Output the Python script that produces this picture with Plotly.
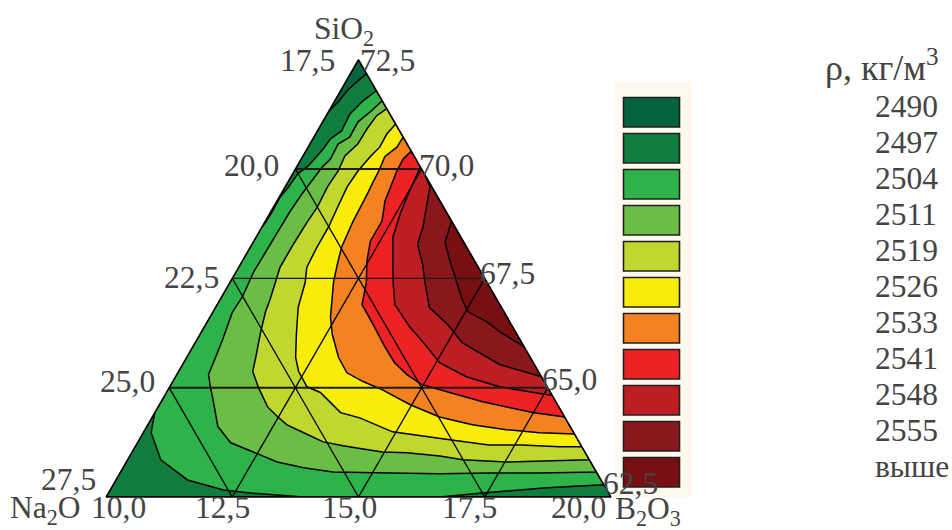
import plotly.graph_objects as go

# Composition ranges, mass %
SIO2_MIN, SIO2_MAX = 62.5, 72.5
NA2O_MIN, NA2O_MAX = 17.5, 27.5
B2O3_MIN, B2O3_MAX = 10.0, 20.0
TOTAL = 100.0

sio2_grid = [65.0, 67.5, 70.0]
na2o_grid = [20.0, 22.5, 25.0]
b2o3_grid = [12.5, 15.0, 17.5]

legend_title = "ρ, кг/м<sup>3</sup>"
legend_labels = ["2490", "2497", "2504", "2511", "2519", "2526", "2533", "2541", "2548", "2555", "выше"]
band_colors = ["#04633f", "#0f7d3e", "#2db34a", "#6abd45", "#c0d72f", "#f7ec0a",
               "#f58220", "#ed2224", "#bc1e24", "#8a171b", "#780f13"]

na2o_ticks = ["17,5", "20,0", "22,5", "25,0", "27,5"]
sio2_ticks = ["72,5", "70,0", "67,5", "65,0", "62,5"]
b2o3_ticks = ["10,0", "12,5", "15,0", "17,5", "20,0"]

# Iso-density boundaries: SiO2 and B2O3 content along each band's edge
sio2_2497 = [72.18, 72.0, 71.79, 71.54, 71.33, 62.5, 62.5]
b2o3_2497 = [10.32, 10.22, 10.13, 10.08, 10.0, 10.0, 20.0]

sio2_2504 = [71.79, 71.56, 71.26, 70.87, 70.69, 70.46, 70.07, 69.89, 69.59, 69.36, 69.01, 68.78, 68.67,
             64.43, 63.97, 63.35, 62.89, 62.66, 62.59, 62.5, 62.5, 62.59, 62.71, 62.78]
b2o3_2504 = [10.71, 10.56, 10.45, 10.48, 10.35, 10.32, 10.22, 10.10, 10.07, 10.02, 10.03, 10.02, 10.0,
             10.0, 10.16, 10.66, 11.42, 12.25, 12.81, 13.91, 16.61, 17.41, 18.62, 19.72]

sio2_2511 = [71.56, 71.31, 71.08, 70.73, 70.57, 70.23, 70.05, 69.47, 69.04, 68.58, 68.10, 67.64, 67.09, 66.72,
             66.10, 65.57, 65.30, 65.00, 64.66, 64.11, 63.74, 63.53, 63.30, 63.17, 63.07, 63.05, 63.03, 63.05,
             63.05, 63.07]
b2o3_2511 = [10.94, 10.83, 10.70, 10.71, 10.56, 10.58, 10.51, 10.42, 10.38, 10.37, 10.36, 10.35, 10.41, 10.39,
             10.51, 10.59, 10.63, 10.82, 11.05, 11.41, 11.85, 12.40, 12.99, 13.58, 14.21, 15.35, 16.35, 17.32,
             18.31, 19.43]

sio2_2519 = [71.38, 71.22, 70.92, 70.57, 70.30, 69.95, 69.59, 69.13, 68.78, 68.28, 67.75, 67.02, 66.74, 66.26,
             65.69, 65.37, 65.00, 64.56, 64.33, 64.15, 63.97, 63.76, 63.67, 63.62, 63.53, 63.51, 63.44, 63.35,
             63.30, 63.33, 63.35]
b2o3_2519 = [11.12, 11.00, 10.96, 10.95, 10.83, 10.87, 10.84, 10.87, 10.84, 10.82, 10.82, 10.99, 11.04, 11.18,
             11.37, 11.47, 11.77, 12.17, 12.49, 12.76, 13.18, 13.67, 14.11, 14.41, 14.96, 15.46, 16.14, 16.64,
             17.53, 18.43, 19.15]

sio2_2526 = [71.03, 70.80, 70.50, 70.28, 69.95, 69.59, 69.15, 68.67, 68.21, 67.75, 67.41, 66.83, 66.22, 65.69,
             65.37, 65.02, 64.89, 64.43, 64.31, 63.99, 63.81, 63.69, 63.69, 63.65, 63.65]
b2o3_2526 = [11.47, 11.41, 11.42, 11.34, 11.26, 11.23, 11.27, 11.32, 11.32, 11.35, 11.49, 11.64, 11.91, 12.16,
             12.38, 12.72, 13.05, 13.68, 14.12, 14.93, 16.15, 16.99, 17.64, 18.40, 18.85]

sio2_2533 = [70.73, 70.50, 70.28, 70.00, 69.66, 69.43, 68.81, 68.21, 67.82, 67.41, 66.61, 66.22, 65.69, 65.34,
             65.14, 64.95, 64.61, 64.33, 64.15, 64.04, 63.97, 63.94]
b2o3_2533 = [11.77, 11.76, 11.63, 11.67, 11.69, 11.71, 11.74, 11.81, 11.92, 12.05, 12.39, 12.62, 13.01, 13.35,
             13.77, 14.25, 14.97, 15.69, 16.43, 17.16, 17.85, 18.56]

sio2_2541 = [70.41, 70.23, 69.95, 69.72, 69.27, 68.81, 68.35, 67.89, 67.41, 66.90, 66.44, 65.94, 65.57, 65.30,
             65.07, 64.89, 64.68, 64.43, 64.33]
b2o3_2541 = [12.09, 12.02, 12.03, 12.07, 12.14, 12.31, 12.31, 12.47, 12.70, 12.87, 13.32, 13.80, 14.18, 14.56,
             14.97, 15.61, 16.37, 17.48, 18.17]

sio2_2548 = [70.05, 69.43, 68.97, 68.44, 67.82, 67.41, 66.90, 66.38, 65.99, 65.57, 65.25, 65.02, 64.82]
b2o3_2548 = [12.45, 12.52, 12.59, 12.71, 13.02, 13.23, 13.52, 14.08, 14.57, 15.07, 15.76, 16.53, 17.68]

sio2_2555 = [69.89, 69.59, 68.67, 68.28, 67.82, 67.41, 66.83, 66.44, 66.03, 65.83, 65.53, 65.25]
b2o3_2555 = [12.61, 12.87, 13.19, 13.28, 13.61, 13.86, 14.24, 14.80, 15.29, 15.68, 16.28, 17.25]

sio2_top = [68.81, 68.33, 67.94, 67.41, 67.06, 66.74, 66.51, 66.28, 65.94]
b2o3_top = [13.69, 13.80, 14.08, 14.49, 14.76, 15.04, 15.53, 15.90, 16.56]

sio2_base = [SIO2_MAX, SIO2_MIN, SIO2_MIN]
b2o3_base = [B2O3_MIN, B2O3_MIN, B2O3_MAX]

bands = [
    (sio2_base, b2o3_base), (sio2_2497, b2o3_2497), (sio2_2504, b2o3_2504), (sio2_2511, b2o3_2511),
    (sio2_2519, b2o3_2519), (sio2_2526, b2o3_2526), (sio2_2533, b2o3_2533), (sio2_2541, b2o3_2541),
    (sio2_2548, b2o3_2548), (sio2_2555, b2o3_2555), (sio2_top, b2o3_top),
]

W, H = 952, 530
TEXT = "#444444"
SERIF = "Liberation Serif"
FS = 31.5
sio2_grid_widths = [2, 1.2, 2]


def px(x):
    return x / W


def py(y):
    return 1 - y / H


fig = go.Figure()

for (si, bo), colour in zip(bands, band_colors):
    na = [round(TOTAL - s - b, 2) for s, b in zip(si, bo)]
    fig.add_trace(go.Scatterternary(
        a=si + si[:1], b=na + na[:1], c=bo + bo[:1], mode="lines", fill="toself", fillcolor=colour,
        line=dict(color="#000000", width=1.5), hoverinfo="skip", showlegend=False))

for v, lw in zip(sio2_grid, sio2_grid_widths):
    fig.add_trace(go.Scatterternary(
        a=[v, v], b=[TOTAL - v - B2O3_MIN, NA2O_MIN], c=[B2O3_MIN, TOTAL - v - NA2O_MIN], mode="lines",
        line=dict(color="#1f1a17", width=lw), hoverinfo="skip", showlegend=False))
for v in na2o_grid:
    fig.add_trace(go.Scatterternary(
        a=[TOTAL - v - B2O3_MIN, SIO2_MIN], b=[v, v], c=[B2O3_MIN, TOTAL - v - SIO2_MIN], mode="lines",
        line=dict(color="#000000", width=1.3), hoverinfo="skip", showlegend=False))
for v in b2o3_grid:
    fig.add_trace(go.Scatterternary(
        a=[SIO2_MIN, TOTAL - v - NA2O_MIN], b=[TOTAL - v - SIO2_MIN, NA2O_MIN], c=[v, v], mode="lines",
        line=dict(color="#000000", width=1.3), hoverinfo="skip", showlegend=False))

axis_style = dict(showgrid=False, showticklabels=False, ticks="", linecolor="#000000", linewidth=1.5,
                  title=dict(text=""))

shapes = [dict(type="rect", xref="paper", yref="paper", x0=px(615), x1=px(692), y0=py(497), y1=py(81),
               fillcolor="#fef9ef", line=dict(width=0), layer="below")]
for i, colour in enumerate(band_colors):
    shapes.append(dict(type="rect", xref="paper", yref="paper", x0=px(623.5), x1=px(679.5),
                       y0=py(127 + 36 * i), y1=py(97.5 + 36 * i), fillcolor=colour,
                       line=dict(color="#231f20", width=1.6), layer="above"))

annotations = []


def label(text, x, y, anchor="left", size=FS):
    shift = {"left": -2, "right": 2, "center": 0}[anchor]
    annotations.append(dict(text=text, xref="paper", yref="paper", x=px(x + shift), y=py(y), xanchor=anchor,
                            yanchor="middle", showarrow=False, font=dict(family=SERIF, size=size, color=TEXT)))


for text, x, y in zip(na2o_ticks, [335, 279, 219, 155, 96], [61, 166, 277, 381, 479]):
    label(text, x, y, "right")
for text, x, y in zip(sio2_ticks, [360, 419, 480, 542, 603], [61, 166, 273, 379, 483]):
    label(text, x, y, "left")
for text, x in zip(b2o3_ticks, [91, 195, 322, 442, 551]):
    label(text, x, 507, "left")

label("SiO<sub>2</sub>", 344, 31, "center")
label("Na<sub>2</sub>O", 10, 510)
label("B<sub>2</sub>O<sub>3</sub>", 615, 511)
label(legend_title, 825, 66, size=36)
for i, text in enumerate(legend_labels):
    label(text, 875, 106.5 + 36 * i)

fig.update_layout(
    width=W, height=H, margin=dict(l=0, r=0, t=0, b=0), paper_bgcolor="#ffffff", showlegend=False,
    ternary=dict(
        sum=TOTAL, bgcolor="#ffffff",
        domain=dict(x=[px(106), px(611)], y=[(H - 497) / H, (H - 59.7) / H]),
        aaxis=dict(min=SIO2_MIN, **axis_style),
        baxis=dict(min=NA2O_MIN, **axis_style),
        caxis=dict(min=B2O3_MIN, **axis_style),
    ),
    shapes=shapes, annotations=annotations,
)

fig.write_html("out.html", config=dict(displayModeBar=False), post_script="document.body.style.margin='0';")
